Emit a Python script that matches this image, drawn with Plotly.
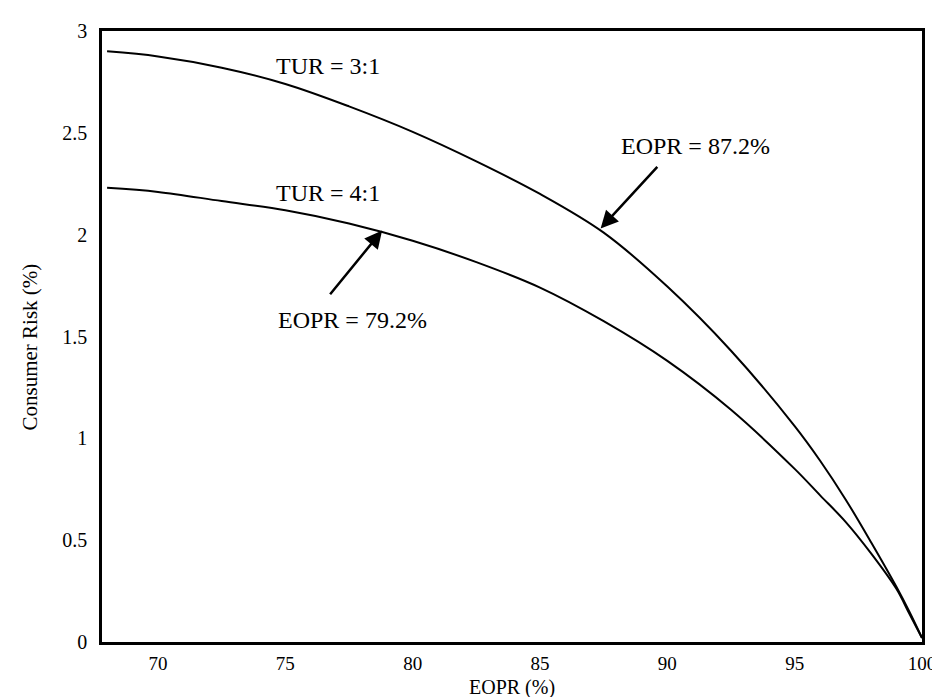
import plotly.graph_objects as go

# EOPR (%) sample points
eopr = [68, 70, 72.5, 75, 77.5, 80, 82.5, 85, 87.5, 90, 92.5, 95, 96, 97, 98, 99, 99.5, 100]
# Consumer risk (%) for TUR = 3:1
risk_tur3 = [2.90, 2.875, 2.82, 2.74, 2.63, 2.505, 2.36, 2.20, 2.01, 1.745, 1.43, 1.06, 0.89, 0.70, 0.49, 0.27, 0.15, 0.02]
# Consumer risk (%) for TUR = 4:1
risk_tur4 = [2.23, 2.21, 2.165, 2.12, 2.055, 1.97, 1.865, 1.74, 1.575, 1.38, 1.14, 0.85, 0.72, 0.59, 0.435, 0.26, 0.14, 0.02]

x_ticks = [70, 75, 80, 85, 90, 95, 100]
y_ticks = [0, 0.5, 1, 1.5, 2, 2.5, 3]
y_tick_labels = ["0", "0.5", "1", "1.5", "2", "2.5", "3"]

FONT = "Liberation Serif, Times New Roman, serif"

fig = go.Figure()
fig.add_trace(go.Scatter(x=eopr, y=risk_tur3, mode="lines", line=dict(color="black", width=2, shape="spline"),
                         name="TUR = 3:1", showlegend=False))
fig.add_trace(go.Scatter(x=eopr, y=risk_tur4, mode="lines", line=dict(color="black", width=2, shape="spline"),
                         name="TUR = 4:1", showlegend=False))

ann = []
# curve labels
ann.append(dict(x=74.56, y=2.826, xref="x", yref="y", text="TUR = 3:1", showarrow=False,
                xanchor="left", yanchor="middle", font=dict(family=FONT, size=24, color="black")))
ann.append(dict(x=74.56, y=2.205, xref="x", yref="y", text="TUR = 4:1", showarrow=False,
                xanchor="left", yanchor="middle", font=dict(family=FONT, size=24, color="black")))
ann.append(dict(x=74.62, y=1.58, xref="x", yref="y", text="EOPR = 79.2%", showarrow=False,
                xanchor="left", yanchor="middle", font=dict(family=FONT, size=24, color="black")))
ann.append(dict(x=88.1, y=2.437, xref="x", yref="y", text="EOPR = 87.2%", showarrow=False,
                xanchor="left", yanchor="middle", font=dict(family=FONT, size=24, color="black")))
# arrows
ann.append(dict(x=78.8, y=2.02, ax=76.71, ay=1.70, xref="x", yref="y", axref="x", ayref="y", text="",
                showarrow=True, arrowhead=2, arrowsize=1.4, arrowwidth=2.5, arrowcolor="black"))
ann.append(dict(x=87.38, y=2.03, ax=89.66, ay=2.34, xref="x", yref="y", axref="x", ayref="y", text="",
                showarrow=True, arrowhead=2, arrowsize=1.4, arrowwidth=2.5, arrowcolor="black"))
# axis titles
ann.append(dict(x=0.5, y=0, xref="paper", yref="paper", text="EOPR (%)", showarrow=False,
                xanchor="center", yanchor="middle", yshift=-45, font=dict(family=FONT, size=20, color="black")))
ann.append(dict(x=0, y=0.482, xref="paper", yref="paper", text="Consumer Risk (%)", showarrow=False,
                textangle=-90, xanchor="center", yanchor="middle", xshift=-72,
                font=dict(family=FONT, size=21, color="black")))

fig.update_layout(
    width=940, height=697,
    margin=dict(l=94, r=22, t=14, b=63),
    paper_bgcolor="white", plot_bgcolor="white",
    annotations=ann,
    font=dict(family=FONT, size=20, color="black"),
)
fig.update_xaxes(range=[67.8, 100], tickvals=x_ticks, showgrid=False, zeroline=False,
                 showline=True, linecolor="black", linewidth=2.5, mirror=True, ticks="",
                 ticklabelstandoff=2, tickfont=dict(family=FONT, size=19, color="black"))
fig.update_yaxes(range=[0, 3], tickvals=y_ticks, ticktext=y_tick_labels, showgrid=False, zeroline=False,
                 showline=True, linecolor="black", linewidth=2.5, mirror=True, ticks="",
                 ticklabelstandoff=8, tickfont=dict(family=FONT, size=20, color="black"))

fig.write_html("out.html")
